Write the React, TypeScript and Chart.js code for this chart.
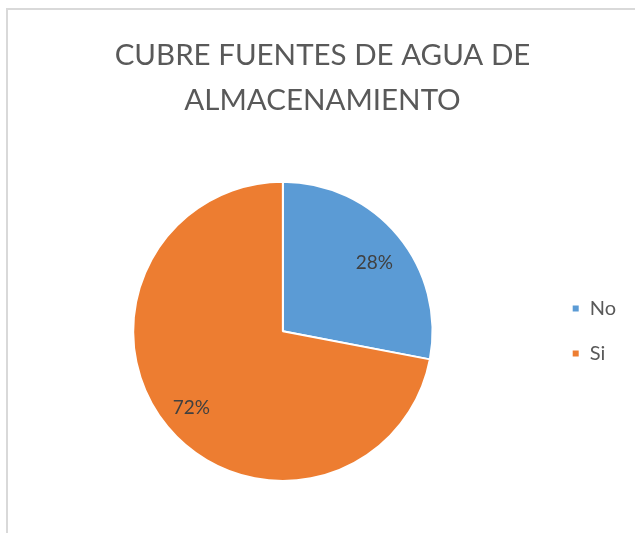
import React, { useEffect, useRef } from "react";
import { Chart, registerables } from "chart.js";

Chart.register(...registerables);

const titleLines = ["CUBRE FUENTES DE AGUA DE", "ALMACENAMIENTO"];
const categories = ["No", "Si"];
const values = [28, 72];
const sliceColors = ["#5B9BD5", "#ED7D31"];
const percentLabels = ["28%", "72%"];

const FONT = "Lato, 'Open Sans', sans-serif";

const pieLabelPlugin = {
  id: "pieLabels",
  afterDatasetsDraw(chart: any) {
    const meta = chart.getDatasetMeta(0);
    const ctx = chart.ctx;
    ctx.save();
    ctx.font = `19px ${FONT}`;
    ctx.fillStyle = "#404040";
    ctx.textAlign = "center";
    ctx.textBaseline = "middle";
    meta.data.forEach((arc: any, i: number) => {
      const { x, y, startAngle, endAngle, outerRadius } = arc.getProps(
        ["x", "y", "startAngle", "endAngle", "outerRadius"],
        true
      );
      const mid = (startAngle + endAngle) / 2 + 0.02;
      const r = outerRadius * 0.78;
      ctx.fillText(percentLabels[i], x + Math.cos(mid) * r, y + Math.sin(mid) * r + 4);
    });
    ctx.restore();
  },
};

export default function App() {
  const ref = useRef<HTMLCanvasElement>(null);
  useEffect(() => {
    if (!ref.current) return;
    const chart = new Chart(ref.current, {
      type: "pie",
      data: {
        labels: categories,
        datasets: [
          {
            data: values,
            backgroundColor: sliceColors,
            borderColor: "#ffffff",
            borderWidth: 2,
            hoverOffset: 0,
          },
        ],
      },
      options: {
        responsive: false,
        animation: false,
        layout: { padding: { left: 19, right: 9, top: 0, bottom: 51 } },
        plugins: {
          title: {
            display: true,
            text: titleLines,
            color: "#595959",
            font: { family: FONT, size: 29.5, weight: "normal", lineHeight: 1.52 },
            padding: { top: 33, bottom: 58 },
          },
          legend: {
            position: "right",
            title: {
              display: true,
              text: " ",
              font: { family: FONT, size: 20, lineHeight: 1.2 },
              padding: 78,
            },
            labels: {
              boxWidth: 8,
              boxHeight: 8,
              padding: 25,
              color: "#595959",
              font: { family: FONT, size: 20 },
            },
          },
          tooltip: { enabled: false },
        },
      },
      plugins: [pieLabelPlugin],
    });
    return () => chart.destroy();
  }, []);
  return (
    <div style={{ position: "absolute", left: 0, top: 0, width: 635, height: 533, overflow: "hidden", background: "#fff" }}>
      <div
        style={{
          position: "absolute",
          left: 6,
          top: 8,
          width: 700,
          height: 600,
          borderLeft: "2px solid #d9d9d9",
          borderTop: "2px solid #d9d9d9",
        }}
      />
      <canvas ref={ref} width={635} height={533} style={{ position: "absolute", left: 0, top: 0 }} />
    </div>
  );
}
